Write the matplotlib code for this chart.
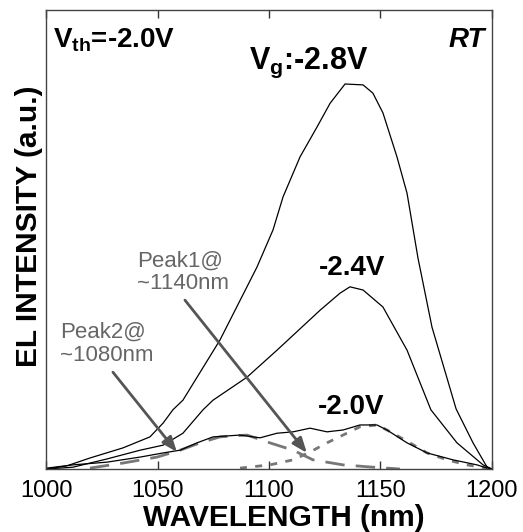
import matplotlib
matplotlib.use("Agg")
import matplotlib.pyplot as plt

plt.rcParams["font.family"] = ["Liberation Sans", "DejaVu Sans"]
plt.rcParams["mathtext.fontset"] = "custom"
plt.rcParams["mathtext.rm"] = "Liberation Sans"
plt.rcParams["mathtext.bf"] = "Liberation Sans:bold"

# EL spectra (wavelength nm, intensity a.u.)
wl_28 = [1000.4, 1009.4, 1019.7, 1034.5, 1046.6, 1052.5, 1056.9, 1061.4, 1078.0, 1094.6,
         1101.8, 1106.3, 1113.9, 1121.5, 1127.4, 1134.1, 1142.2, 1146.6, 1151.1, 1157.4,
         1161.9, 1166.8, 1173.1, 1183.9, 1191.5, 1197.8, 1200.0]
el_28 = [0.000, 0.007, 0.024, 0.046, 0.070, 0.100, 0.129, 0.150, 0.281, 0.440,
         0.521, 0.593, 0.680, 0.745, 0.797, 0.839, 0.837, 0.819, 0.776, 0.680,
         0.601, 0.460, 0.309, 0.131, 0.057, 0.004, 0.000]

wl_24 = [1000.4, 1012.1, 1027.4, 1042.2, 1052.5, 1061.4, 1070.4, 1074.9, 1090.1, 1103.6,
         1122.9, 1131.8, 1136.3, 1142.2, 1151.1, 1161.9, 1172.6, 1184.3, 1196.0, 1200.0]
el_24 = [0.000, 0.004, 0.022, 0.041, 0.052, 0.078, 0.129, 0.150, 0.200, 0.259,
         0.346, 0.383, 0.397, 0.390, 0.353, 0.259, 0.129, 0.057, 0.009, 0.000]

wl_20 = [1000.4, 1012.1, 1027.4, 1042.2, 1052.5, 1060.1, 1067.7, 1074.9, 1087.0, 1096.0,
         1103.6, 1110.8, 1118.4, 1126.0, 1133.2, 1140.8, 1148.4, 1152.9, 1161.9, 1170.9,
         1182.5, 1193.3, 1197.8, 1200.0]
el_20 = [0.002, 0.009, 0.015, 0.026, 0.035, 0.041, 0.057, 0.070, 0.074, 0.068,
         0.078, 0.081, 0.089, 0.081, 0.085, 0.096, 0.096, 0.085, 0.057, 0.035,
         0.020, 0.009, 0.002, 0.000]

# fitted components of the -2.0V spectrum
wl_p2 = [1019.7, 1034.5, 1049.8, 1060.1, 1069.1, 1078.0, 1090.1, 1100.4, 1110.8, 1119.7,
         1133.2, 1146.6, 1158.7]
el_p2 = [0.002, 0.013, 0.026, 0.041, 0.057, 0.070, 0.074, 0.057, 0.041, 0.020,
         0.009, 0.004, 0.000]

wl_p1 = [1087.0, 1100.4, 1110.8, 1118.4, 1126.0, 1133.2, 1140.8, 1148.4, 1152.9, 1163.2,
         1170.9, 1179.8, 1188.8, 1197.8]
el_p1 = [0.002, 0.009, 0.020, 0.037, 0.057, 0.074, 0.092, 0.096, 0.085, 0.057,
         0.035, 0.020, 0.009, 0.002]

xticks = [1000, 1050, 1100, 1150, 1200]

fig = plt.figure(figsize=(5.23, 5.32), dpi=100)
ax = fig.add_axes([0.088, 0.1184, 0.8527, 0.8626])

gray = "#777777"
ax.plot(wl_p2, el_p2, color=gray, lw=2, dashes=(7, 4))
ax.plot(wl_p1, el_p1, color=gray, lw=2, dashes=(2.5, 3))
for wl, el in [(wl_28, el_28), (wl_24, el_24), (wl_20, el_20)]:
    ax.plot(wl, el, color="black", lw=0.9)

ax.set_xlim(1000, 1200)
ax.set_ylim(0, 1)
ax.set_xticks(xticks)
ax.set_yticks([])
ax.tick_params(axis="x", direction="in", length=6, width=1, top=True,
               labelsize=17, pad=8, color="#333333")
for s in ax.spines.values():
    s.set_color("#444444")
    s.set_linewidth(1)

fig.text(284 / 523, 1 - 518 / 532, "WAVELENGTH (nm)", fontsize=21.5, fontweight="bold",
         ha="center", va="center")
fig.text(29 / 523, 1 - 226 / 532, "EL INTENSITY (a.u.)", fontsize=21.5, fontweight="bold",
         ha="center", va="center", rotation=90)

ax.text(1003.1, 0.919, r"$\mathbf{V_{th}}$=-2.0V", fontsize=20, fontweight="bold",
        va="baseline", ha="left")
ax.text(1197, 0.919, "RT", fontsize=20, fontweight="bold", style="italic",
        va="baseline", ha="right")
ax.text(1091.0, 0.872, r"$\mathbf{V_{g}}$:-2.8V", fontsize=22, fontweight="bold",
        va="baseline", ha="left")
ax.text(1137.2, 0.438, "-2.4V", fontsize=20, fontweight="bold", ha="center", va="center")
ax.text(1137.0, 0.135, "-2.0V", fontsize=20, fontweight="bold", ha="center", va="center")

arrow = dict(arrowstyle="-|>,head_length=0.9,head_width=0.35", color="#555555", lw=2,
             shrinkA=0, shrinkB=0)
ax.annotate("", xy=(1117.0, 0.035), xytext=(1062.3, 0.368), arrowprops=arrow)
ax.annotate("", xy=(1058.7, 0.037), xytext=(1030.0, 0.211), arrowprops=arrow)
ax.text(1040.8, 0.428, "Peak1@\n~1140nm", fontsize=16, color="#666666",
        ha="left", va="center", linespacing=1.1)
ax.text(1006.3, 0.273, "Peak2@\n~1080nm", fontsize=16, color="#666666",
        ha="left", va="center", linespacing=1.1)

fig.savefig("out.png", dpi=100)
